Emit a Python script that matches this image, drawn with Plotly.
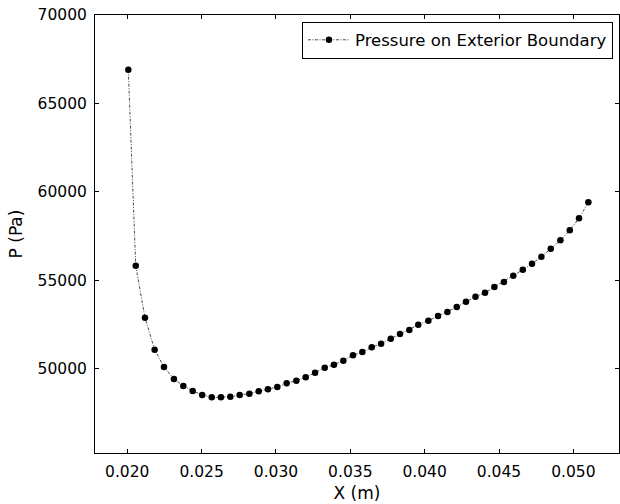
import plotly.graph_objects as go

x_m = [0.02007, 0.02057, 0.02119, 0.02184, 0.02247, 0.02314, 0.02377, 0.02440, 0.02504, 0.02568,
       0.02630, 0.02693, 0.02756, 0.02821, 0.02884, 0.02946, 0.03009, 0.03072, 0.03137, 0.03200,
       0.03263, 0.03328, 0.03390, 0.03453, 0.03518, 0.03581, 0.03644, 0.03707, 0.03772, 0.03834,
       0.03897, 0.03957, 0.04025, 0.04090, 0.04153, 0.04216, 0.04278, 0.04342, 0.04406, 0.04469,
       0.04533, 0.04596, 0.04660, 0.04722, 0.04785, 0.04848, 0.04913, 0.04976, 0.05038, 0.05101]
pressure_pa = [66909, 55835, 52897, 51089, 50112, 49434, 49038, 48756, 48530, 48400,
               48400, 48434, 48530, 48603, 48739, 48852, 48982, 49191, 49338, 49530,
               49790, 50072, 50242, 50468, 50773, 50959, 51225, 51428, 51711, 51976,
               52202, 52496, 52728, 52993, 53219, 53502, 53796, 54078, 54310, 54632,
               54914, 55270, 55609, 55948, 56344, 56796, 57271, 57836, 58514, 59418]

x_ticks = [0.020, 0.025, 0.030, 0.035, 0.040, 0.045, 0.050]
y_ticks = [50000, 55000, 60000, 65000, 70000]

FONT = "DejaVu Sans"

fig = go.Figure()
fig.add_trace(go.Scatter(
    x=x_m, y=pressure_pa, mode="lines+markers",
    name="Pressure on Exterior Boundary",
    line=dict(color="black", width=0.7, dash="3px,1.5px,1px,1.5px"),
    marker=dict(color="black", size=6.5, symbol="circle"),
))

axis_common = dict(
    showline=True, linecolor="black", linewidth=1, mirror="ticks",
    ticks="inside", ticklen=4, tickwidth=1, tickcolor="black",
    showgrid=False, zeroline=False,
    tickfont=dict(family=FONT, size=15.5, color="black"),
)

fig.update_xaxes(
    range=[0.01783, 0.05307], tickvals=x_ticks, tickformat=".3f",
    title=dict(text="X (m)", font=dict(family=FONT, size=17, color="black"), standoff=7),
    ticklabelstandoff=4,
    **axis_common,
)
fig.update_yaxes(
    range=[45252, 70000], tickvals=y_ticks, tickformat="d",
    title=dict(text="P (Pa)", font=dict(family=FONT, size=17, color="black"), standoff=10),
    ticklabelstandoff=4,
    **axis_common,
)

fig.update_layout(
    width=620, height=504,
    margin=dict(l=95, r=1, t=15, b=51),
    paper_bgcolor="white", plot_bgcolor="white",
    font=dict(family=FONT, size=15, color="black"),
    showlegend=True,
    legend=dict(
        x=0.9885, y=0.985, xanchor="right", yanchor="top",
        bgcolor="white", bordercolor="black", borderwidth=1,
        font=dict(family=FONT, size=16.5, color="black"),
        itemwidth=42,
    ),
)

fig.write_html("out.html")
